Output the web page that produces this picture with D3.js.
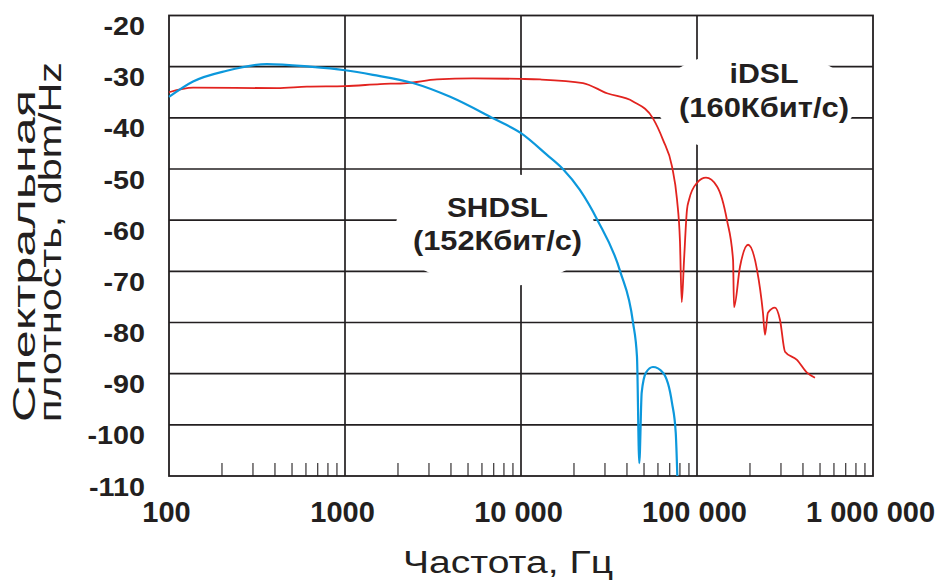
<!DOCTYPE html>
<html>
<head>
<meta charset="utf-8">
<script src="https://cdn.jsdelivr.net/npm/d3@7"></script>
<style>
  body { margin: 0; background: #fff; }
  svg { display: block; font-family: "Liberation Sans", Arial, sans-serif; }
</style>
</head>
<body>
<svg id="chart" width="940" height="587"></svg>
<script>
// Data (frequency in Hz, level in dbm/Hz)
const shdslFreq = [100, 137, 213, 360, 630, 1000, 1440, 2430, 3960, 6940, 10000, 14000, 17300, 21600,
                   27200, 36600, 43300, 45600, 47000, 48500, 51300, 56200, 64100, 72100, 75700, 77300];
const shdslDb   = [-35.9, -32.9, -30.8, -29.5, -30.0, -30.7, -31.6, -33.2, -35.9, -40.1, -43.0, -47.2, -50.0, -54.1,
                   -60.0, -70.0, -80.0, -86.7, -107.5, -93.7, -89.8, -88.7, -89.8, -95.7, -101.5, -110];

const idslFreq = [100, 137, 411, 608, 1000, 1581, 2250, 3330, 5340, 10000, 12830, 22500, 30800, 43300,
                  56200, 64100, 72100, 77000, 80000, 81900, 84400, 87700, 90100, 100000, 112500, 130000,
                  148000, 160300, 162300, 175500, 195000, 219300, 237000, 243400, 253000, 277300, 296300,
                  316200, 369800, 421700, 468000];
const idslDb   = [-35.0, -34.1, -34.2, -33.9, -33.8, -33.4, -33.2, -32.5, -32.3, -32.4, -32.5, -33.2, -35.2, -36.8,
                  -40.1, -44.3, -49.5, -56.0, -64.0, -76.0, -67.8, -58.0, -56.0, -52.7, -51.7, -53.4,
                  -60.0, -67.8, -77.0, -69.1, -64.8, -69.7, -78.1, -82.4, -78.1, -77.1, -79.5,
                  -85.7, -87.3, -89.8, -90.8];

const yTicks = [-20, -30, -40, -50, -60, -70, -80, -90, -100, -110];
const xTicks = [100, 1000, 10000, 100000, 1000000];
const xTickLabels = ["100", "1000", "10 000", "100 000", "1 000 000"];

const svg = d3.select("#chart");
const ink = "#231f20";

// Plot box
const plotLeft = 169, plotRight = 873, plotTop = 15.5, plotBottom = 476;

const x = d3.scaleLog().domain([100, 1e6]).range([plotLeft, plotRight]);
const y = d3.scaleLinear().domain([-110, -20]).range([plotBottom, plotTop]);

// Horizontal grid lines
svg.append("g")
    .selectAll("line")
    .data(yTicks.filter(d => d !== -20 && d !== -110))
    .enter()
    .append("line")
    .attr("x1", plotLeft).attr("x2", plotRight)
    .attr("y1", d => y(d)).attr("y2", d => y(d))
    .attr("stroke", ink).attr("stroke-width", 1.7);

// Vertical grid lines at inner decades
svg.append("g")
    .selectAll("line")
    .data(xTicks.slice(1, -1))
    .enter()
    .append("line")
    .attr("x1", d => x(d)).attr("x2", d => x(d))
    .attr("y1", plotTop).attr("y2", plotBottom)
    .attr("stroke", ink).attr("stroke-width", 1.7);

// Minor ticks along the bottom (2..9 of each decade)
const minor = x.ticks().filter(d => Math.abs(Math.log10(d) - Math.round(Math.log10(d))) > 1e-6);
svg.append("g")
    .selectAll("line")
    .data(minor)
    .enter()
    .append("line")
    .attr("x1", d => x(d)).attr("x2", d => x(d))
    .attr("y1", plotBottom - 13).attr("y2", plotBottom)
    .attr("stroke", ink).attr("stroke-width", 1.1);

// Plot border
svg.append("rect")
    .attr("x", plotLeft).attr("y", plotTop)
    .attr("width", plotRight - plotLeft).attr("height", plotBottom - plotTop)
    .attr("fill", "none")
    .attr("stroke", ink).attr("stroke-width", 1.8);

// White patches behind the labels (they hide grid lines)
svg.append("ellipse")
    .attr("cx", 756).attr("cy", 102).attr("rx", 100).attr("ry", 53)
    .attr("fill", "#fff");
svg.append("ellipse")
    .attr("cx", 495).attr("cy", 230).attr("rx", 100).attr("ry", 57)
    .attr("fill", "#fff");

// Curves
const line = d3.line()
    .x(d => x(d[0]))
    .y(d => y(d[1]))
    .curve(d3.curveMonotoneX);

svg.append("path")
    .datum(idslFreq.map((f, i) => [f, idslDb[i]]))
    .attr("d", line)
    .attr("fill", "none")
    .attr("stroke", "#e2231f")
    .attr("stroke-width", 1.8)
    .attr("stroke-linejoin", "round");

svg.append("path")
    .datum(shdslFreq.map((f, i) => [f, shdslDb[i]]))
    .attr("d", line)
    .attr("fill", "none")
    .attr("stroke", "#0c98dc")
    .attr("stroke-width", 2.2)
    .attr("stroke-linejoin", "round");

// Y axis labels
const yAxis = svg.append("g")
    .attr("transform", `translate(${plotLeft},0)`)
    .call(d3.axisLeft(y).tickValues(yTicks).tickSize(0).tickFormat(d => String(d)));
yAxis.select(".domain").remove();
yAxis.selectAll("text")
    .attr("x", -24 / 1.15)
    .attr("dy", 0)
    .attr("y", 19)
    .attr("transform", "scale(1.15,1)")
    .attr("fill", ink)
    .attr("font-size", 25)
    .attr("font-weight", "bold")
    .attr("font-family", "Liberation Sans, Arial, sans-serif")
    .attr("text-anchor", "end");

// X axis labels
const xAxis = svg.append("g")
    .attr("transform", `translate(0,${plotBottom})`)
    .call(d3.axisBottom(x).tickValues(xTicks).tickSize(0).tickFormat((d, i) => xTickLabels[i]));
xAxis.select(".domain").remove();
xAxis.selectAll("text")
    .attr("x", -3)
    .attr("y", 46)
    .attr("dy", 0)
    .attr("fill", ink)
    .attr("font-size", 29)
    .attr("font-weight", "bold")
    .attr("font-family", "Liberation Sans, Arial, sans-serif");

// Axis titles
svg.append("text")
    .attr("x", 403).attr("y", 573)
    .attr("font-size", 31)
    .attr("fill", ink)
    .attr("textLength", 210)
    .attr("lengthAdjust", "spacingAndGlyphs")
    .text("Частота, Гц");

svg.append("text")
    .attr("transform", "translate(35,422) rotate(-90)")
    .attr("font-size", 31)
    .attr("fill", ink)
    .attr("textLength", 332)
    .attr("lengthAdjust", "spacingAndGlyphs")
    .text("Спектральная");

svg.append("text")
    .attr("transform", "translate(61,422) rotate(-90)")
    .attr("font-size", 31)
    .attr("fill", ink)
    .attr("textLength", 360)
    .attr("lengthAdjust", "spacingAndGlyphs")
    .text("плотность, dbm/Hz");

// Series labels
const notes = [
    { text: "iDSL", x: 764, y: 83, len: 69 },
    { text: "(160Кбит/с)", x: 764, y: 117, len: 170 },
    { text: "SHDSL", x: 497.5, y: 217, len: 101 },
    { text: "(152Кбит/с)", x: 497.5, y: 250, len: 169 }
];
svg.append("g")
    .selectAll("text")
    .data(notes)
    .enter()
    .append("text")
    .attr("x", d => d.x - d.len / 2)
    .attr("y", d => d.y)
    .attr("textLength", d => d.len)
    .attr("lengthAdjust", "spacingAndGlyphs")
    .attr("font-size", 28)
    .attr("font-weight", "bold")
    .attr("fill", ink)
    .text(d => d.text);
</script>
</body>
</html>
